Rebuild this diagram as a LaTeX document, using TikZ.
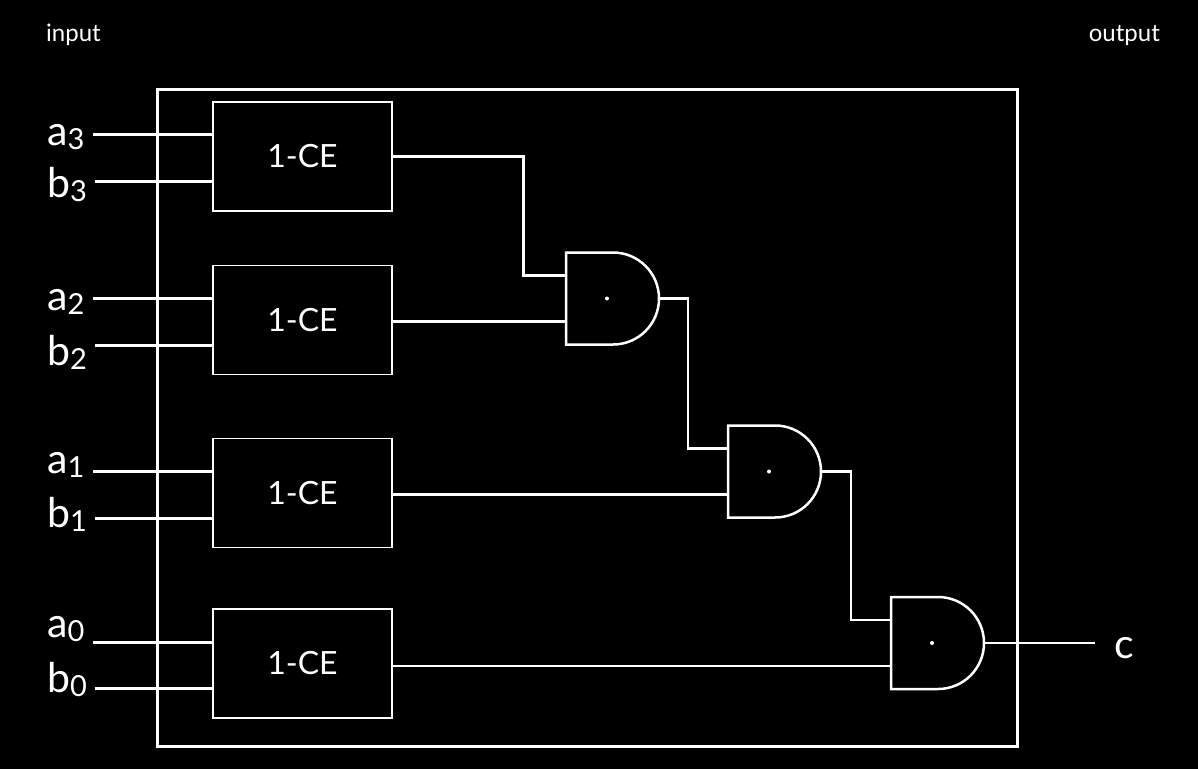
\documentclass[tikz,border=0pt]{standalone}
\usepackage{fontspec}
\setmainfont{Lato}
\newcommand{\lsub}[1]{{\fontsize{29}{29}\selectfont\raisebox{-4pt}{#1}}}
\newcommand{\andgate}[3]{%
  \draw[gate] (#2,#3+46) -- ++(47,0) arc[start angle=90,end angle=-90,radius=46] -- (#2,#3-46) -- cycle;
  \fill[white] (#2+41,#3) circle (2);
  \coordinate (#1-in1) at (#2,#3+23);
  \coordinate (#1-in2) at (#2,#3-23);
  \coordinate (#1-out) at (#2+93,#3);
}
\begin{document}
\begin{tikzpicture}[x=1pt,y=1pt,
  every node/.style={text=white},
  ce/.style={draw=white,line width=1.3pt,minimum width=179pt,minimum height=109pt,inner sep=0pt,font=\fontsize{32}{32}\selectfont},
  frame/.style={draw=white,line width=3pt,minimum width=860pt,minimum height=657pt,inner sep=0pt},
  inwire/.style={draw=white,line width=3pt},
  wire/.style={draw=white,line width=2.5pt},
  gate/.style={draw=white,line width=2.5pt,line join=miter},
  lbl/.style={anchor=base west,inner sep=0pt,font=\fontsize{41}{41}\selectfont},
  small/.style={inner sep=0pt,font=\fontsize{24}{24}\selectfont}]
\fill[black] (0,0) rectangle (1198,-769);
\useasboundingbox (0,0) rectangle (1198,-769);

\node[small,anchor=base west] (tin) at (46,-41) {input};
\node[small,anchor=base east] (tout) at (1160,-41) {output};

\node[frame] (frame) at (587,-417.5) {};

\node[ce] (ce3) at (302.5,-156.5) {1-CE};
\node[ce] (ce2) at (302.5,-320) {1-CE};
\node[ce] (ce1) at (302.5,-493) {1-CE};
\node[ce] (ce0) at (302.5,-663.5) {1-CE};

% input labels
\node[lbl] (la3) at (47,-145) {a\lsub{3}};
\node[lbl] (lb3) at (47,-197) {b\lsub{3}};
\node[lbl] (la2) at (47,-310) {a\lsub{2}};
\node[lbl] (lb2) at (47,-365) {b\lsub{2}};
\node[lbl] (la1) at (47,-473) {a\lsub{1}};
\node[lbl] (lb1) at (47,-527) {b\lsub{1}};
\node[lbl] (la0) at (47,-637) {a\lsub{0}};
\node[lbl] (lb0) at (47,-692) {b\lsub{0}};

% input wires
\coordinate (ia3) at (93,-134);
\coordinate (ib3) at (95,-181);
\coordinate (ia2) at (93,-298);
\coordinate (ib2) at (95,-345);
\coordinate (ia1) at (93,-471);
\coordinate (ib1) at (95,-518);
\coordinate (ia0) at (93,-642);
\coordinate (ib0) at (95,-688);
\foreach \w/\b in {ia3/ce3,ib3/ce3,ia2/ce2,ib2/ce2,ia1/ce1,ib1/ce1,ia0/ce0,ib0/ce0}
  \draw[inwire] (\w) -- (\w -| \b.west);

% gates
\andgate{g1}{566}{-298.5}
\andgate{g2}{728}{-471.5}
\andgate{g3}{891}{-643}

% connections
\draw[wire] (ce3.east) -- ++(131,0) |- (g1-in1);
\draw[wire] (g1-in2 -| ce2.east) -- (g1-in2);
\draw[wire] (g1-out) -- ++(29,0) |- (g2-in1);
\draw[wire] (g2-in2 -| ce1.east) -- (g2-in2);
\draw[wire] (g2-out) -- ++(30,0) |- (g3-in1);
\draw[wire] (g3-in2 -| ce0.east) -- (g3-in2);

\coordinate (cout) at (1095,-643);
\draw[wire] (g3-out) -- (cout);
\node[lbl] (lc) at (1114,-658) {c};
\end{tikzpicture}
\end{document}
